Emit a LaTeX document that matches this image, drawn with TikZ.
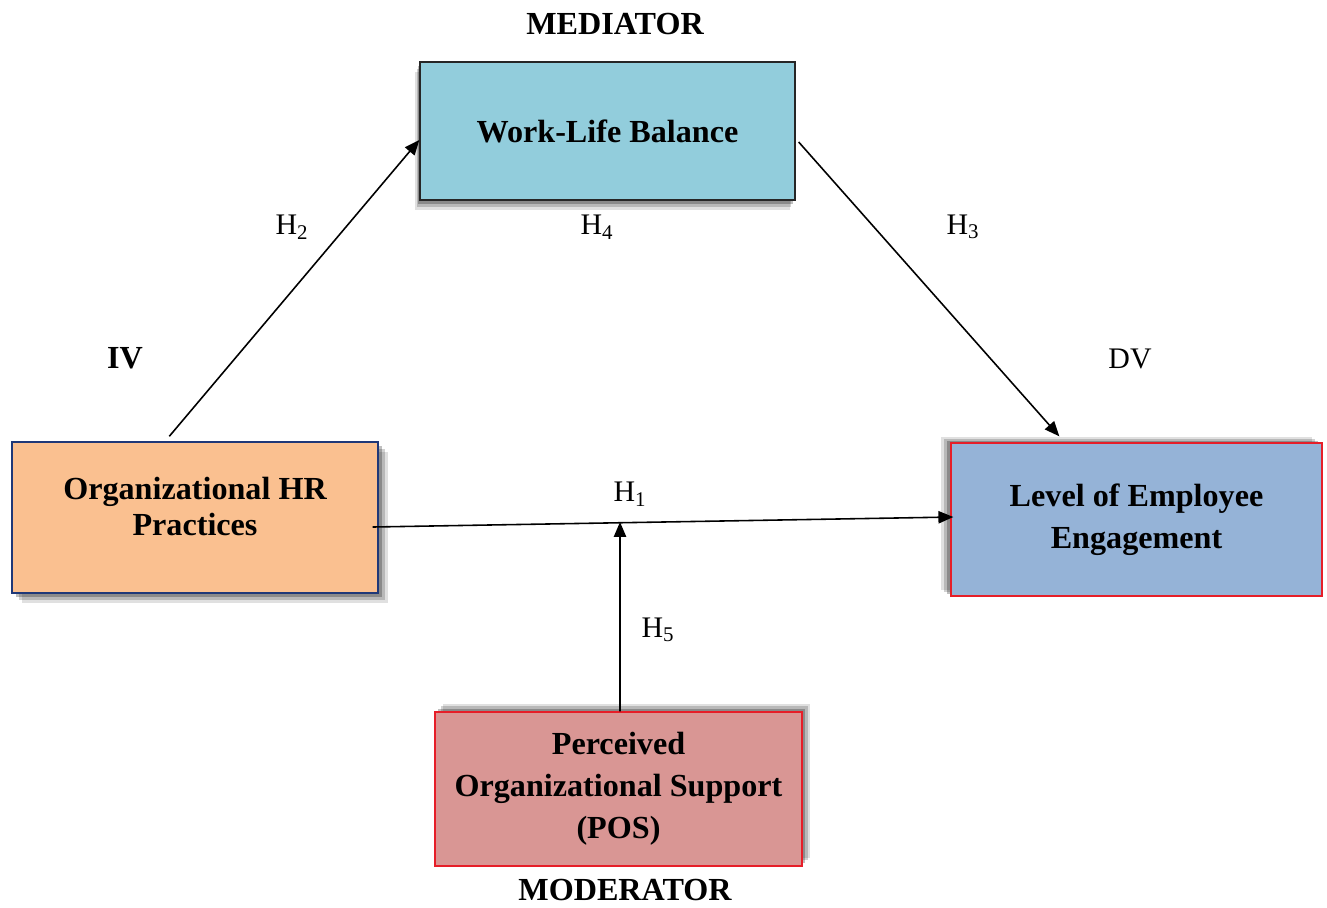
\documentclass[tikz,border=0pt]{standalone}
\usepackage{fontspec}
\setmainfont{Liberation Serif}
\usetikzlibrary{arrows.meta,shadows,calc}
\definecolor{wlbfill}{RGB}{146,205,220}
\definecolor{hrfill}{RGB}{250,192,144}
\definecolor{leefill}{RGB}{149,179,215}
\definecolor{posfill}{RGB}{217,150,148}
\definecolor{hrborder}{RGB}{31,56,120}
\definecolor{redborder}{RGB}{230,30,40}
\tikzset{
  box/.style={rectangle, align=center, inner sep=2pt, font=\fontsize{18.3}{20.5}\selectfont\bfseries, line width=0.8pt},
  shad/.style 2 args={drop shadow={shadow xshift=#1*0.2cm, shadow yshift=#2*0.2cm, opacity=0.12, fill=black},
                      drop shadow={shadow xshift=#1*0.14cm, shadow yshift=#2*0.14cm, opacity=0.18, fill=black},
                      drop shadow={shadow xshift=#1*0.08cm, shadow yshift=#2*0.08cm, opacity=0.25, fill=black}},
  arr/.style={-{Triangle[length=8.5pt,width=7pt]}, line width=0.9pt},
  hlab/.style={font=\fontsize{17}{20}\selectfont},
  blab/.style={font=\fontsize{18.3}{21}\selectfont\bfseries}
}
\begin{document}
\begin{tikzpicture}[x=0.02cm,y=-0.02cm]
\useasboundingbox (0,0) rectangle (1327,907);
\node[box, shad={-0.5}{-1}, fill=wlbfill, draw=black!85, minimum width=7.5cm, minimum height=2.76cm] (wlb) at (607.5,131) {Work-Life Balance};
\node[box, shad={1}{-1}, fill=hrfill, draw=hrborder, minimum width=7.32cm, minimum height=3.02cm] (hr) at (195,517.5) {Organizational HR\\Practices\\[-8pt]\mbox{}};
\node[box, shad={-1}{0.6}, fill=leefill, draw=redborder, minimum width=7.42cm, minimum height=3.06cm] (lee) at (1136.5,519.5) {Level of Employee\\[3.5pt]Engagement};
\node[box, shad={0.8}{0.8}, fill=posfill, draw=redborder, minimum width=7.34cm, minimum height=3.08cm] (pos) at (618.5,789) {Perceived\\[3.5pt]Organizational Support\\[3.5pt](POS)};

\node[blab] (med) at (615,24) {MEDIATOR};
\node[blab] (mod) at (625,890) {MODERATOR};
\node[blab] (iv) at (125,358) {IV};
\node[hlab] (dv) at (1130,359) {DV};
\node[hlab] (h2) at (292,227) {H\textsubscript{2}};
\node[hlab] (h4) at (597,227) {H\textsubscript{4}};
\node[hlab] (h3) at (963,227) {H\textsubscript{3}};
\node[hlab] (h1) at (630,494) {H\textsubscript{1}};
\node[hlab] (h5) at (658,630) {H\textsubscript{5}};

\draw[arr] ([xshift=3.16cm,yshift=0.1cm]hr.north west) -- ([yshift=-0.18cm]wlb.west);
\draw[arr] ([xshift=0.06cm,yshift=-0.22cm]wlb.east) -- ([xshift=2.18cm,yshift=0.12cm]lee.north west);
\draw[arr] ([xshift=-0.12cm,yshift=-0.19cm]hr.east) -- ([xshift=0.06cm,yshift=0.05cm]lee.west);
\coordinate (h5end) at (620,522);
\draw[arr] ([xshift=0.03cm]pos.north) -- (h5end);
\end{tikzpicture}
\end{document}
